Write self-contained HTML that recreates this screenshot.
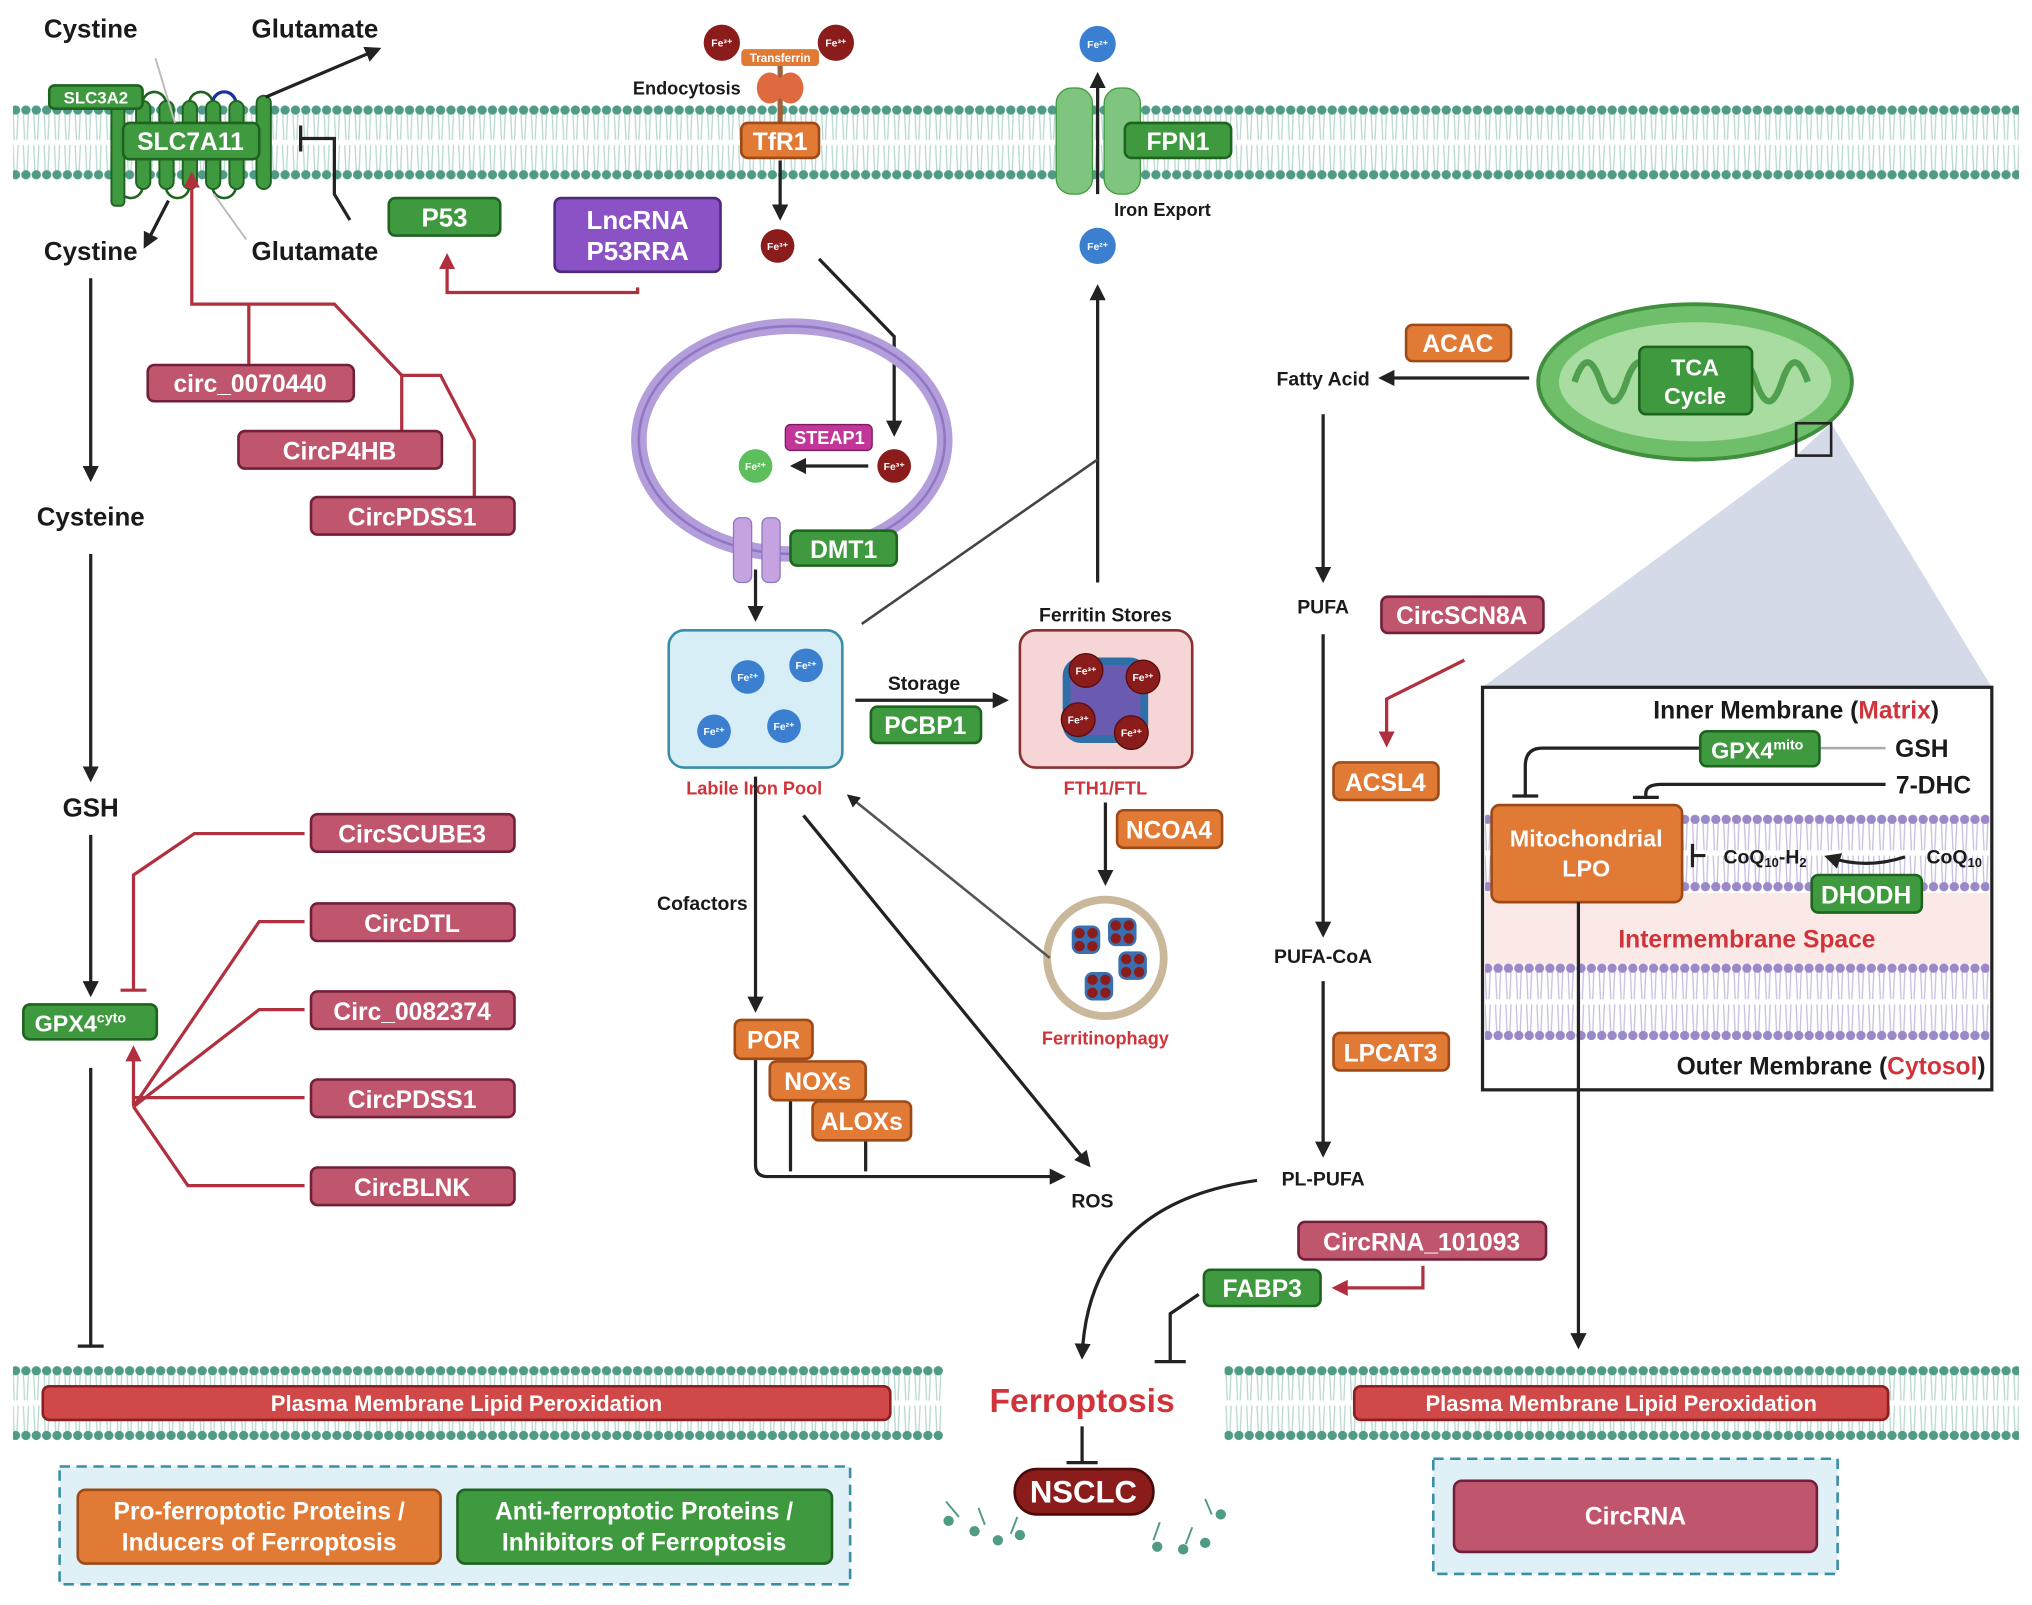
<!DOCTYPE html>
<html><head><meta charset="utf-8"><style>
html,body{margin:0;padding:0;background:#fff}
svg{display:block}
text{font-family:"Liberation Sans",sans-serif;font-weight:bold}
.w{fill:#fff;text-anchor:middle}
.k{fill:#1a1a1a;text-anchor:middle}
.r{fill:#d0343a;text-anchor:middle}
.g{fill:#3f9a3f;stroke:#1e6420;stroke-width:2}
.o{fill:#e07a35;stroke:#9c4a17;stroke-width:2}
.p{fill:#c0566e;stroke:#72203a;stroke-width:2}
.ln{stroke:#222;stroke-width:2.5;fill:none}
.rl{stroke:#b0303f;stroke-width:2.5;fill:none}
.hx{fill:#3f9a3f;stroke:#1e6420;stroke-width:1.5}
</style></head><body>
<svg width="2032" height="1605" viewBox="0 0 1568 1240" preserveAspectRatio="none" xmlns="http://www.w3.org/2000/svg">
<defs>
<pattern id="mem" x="0" y="80" width="8" height="60" patternUnits="userSpaceOnUse">
<line x1="2" y1="6" x2="3" y2="28" stroke="#b7d8cf" stroke-width="1"/><line x1="6" y1="6" x2="5" y2="28" stroke="#b7d8cf" stroke-width="1"/>
<line x1="2" y1="32" x2="3" y2="54" stroke="#b7d8cf" stroke-width="1"/><line x1="6" y1="32" x2="5" y2="54" stroke="#b7d8cf" stroke-width="1"/>
<circle cx="4" cy="5" r="3.6" fill="#4f9b86"/><circle cx="4" cy="55" r="3.6" fill="#4f9b86"/>
</pattern>
<pattern id="memb" x="0" y="1054" width="8" height="60" patternUnits="userSpaceOnUse">
<line x1="2" y1="6" x2="3" y2="28" stroke="#b7d8cf"/><line x1="6" y1="6" x2="5" y2="28" stroke="#b7d8cf"/>
<line x1="2" y1="32" x2="3" y2="54" stroke="#b7d8cf"/><line x1="6" y1="32" x2="5" y2="54" stroke="#b7d8cf"/>
<circle cx="4" cy="5" r="3.6" fill="#4f9b86"/><circle cx="4" cy="55" r="3.6" fill="#4f9b86"/>
</pattern>
<pattern id="pm1" x="0" y="628" width="8" height="62" patternUnits="userSpaceOnUse">
<line x1="2" y1="6" x2="3" y2="29" stroke="#c8bde0"/><line x1="6" y1="6" x2="5" y2="29" stroke="#c8bde0"/>
<line x1="2" y1="33" x2="3" y2="56" stroke="#c8bde0"/><line x1="6" y1="33" x2="5" y2="56" stroke="#c8bde0"/>
<circle cx="4" cy="5" r="3.6" fill="#9a88c8"/><circle cx="4" cy="57" r="3.6" fill="#9a88c8"/>
</pattern>
<pattern id="pm2" x="0" y="743" width="8" height="62" patternUnits="userSpaceOnUse">
<line x1="2" y1="6" x2="3" y2="29" stroke="#c8bde0"/><line x1="6" y1="6" x2="5" y2="29" stroke="#c8bde0"/>
<line x1="2" y1="33" x2="3" y2="56" stroke="#c8bde0"/><line x1="6" y1="33" x2="5" y2="56" stroke="#c8bde0"/>
<circle cx="4" cy="5" r="3.6" fill="#9a88c8"/><circle cx="4" cy="57" r="3.6" fill="#9a88c8"/>
</pattern>
<marker id="a" viewBox="0 0 10 10" refX="8" refY="5" markerWidth="5" markerHeight="5" orient="auto"><path d="M0,0L10,5L0,10z" fill="#222"/></marker>
<marker id="ar" viewBox="0 0 10 10" refX="8" refY="5" markerWidth="5" markerHeight="5" orient="auto"><path d="M0,0L10,5L0,10z" fill="#b0303f"/></marker>
<g id="fc">
<rect x="-11" y="-11" width="22" height="22" rx="6" fill="#3a6fb0"/>
<circle cx="-5" cy="-5" r="4" fill="#8a1c1c"/><circle cx="5" cy="-5" r="4" fill="#8a1c1c"/><circle cx="-5" cy="5" r="4" fill="#8a1c1c"/><circle cx="5" cy="5" r="4" fill="#8a1c1c"/>
</g>
</defs>

<!-- membranes -->
<rect x="10" y="80" width="1548" height="60" fill="url(#mem)"/>
<rect x="10" y="1054" width="718" height="60" fill="url(#memb)"/>
<rect x="945" y="1054" width="613" height="60" fill="url(#memb)"/>

<!-- top left transporter -->
<g stroke="#1e6420" stroke-width="2" fill="none">
<path d="M110,80a9,9 0 0 1 18,0"/><path d="M146,80a9,9 0 0 1 18,0"/>
<path d="M128,144a9,9 0 0 0 18,0"/><path d="M164,144a9,9 0 0 0 18,0"/><path d="M92,144a9,9 0 0 0 18,0"/>
</g>
<path d="M164,80a9,9 0 0 1 18,0" stroke="#1a2fa0" stroke-width="2.5" fill="none"/>
<rect x="86" y="75" width="10" height="84" rx="3" class="hx"/>
<rect x="105" y="78" width="11" height="68" rx="5.5" class="hx"/>
<rect x="123" y="78" width="11" height="68" rx="5.5" class="hx"/>
<rect x="141" y="78" width="11" height="68" rx="5.5" class="hx"/>
<rect x="159" y="78" width="11" height="68" rx="5.5" class="hx"/>
<rect x="177" y="78" width="11" height="68" rx="5.5" class="hx"/>
<rect x="198" y="74" width="11" height="72" rx="5.5" class="hx"/>
<rect x="38" y="66" width="72" height="18" rx="4" class="g"/><text x="74" y="80" class="w" font-size="13">SLC3A2</text>
<rect x="95" y="95" width="105" height="28" rx="5" class="g"/><text x="147" y="116" class="w" font-size="19">SLC7A11</text>
<text x="70" y="29" class="k" font-size="20">Cystine</text><text x="243" y="29" class="k" font-size="20">Glutamate</text>
<text x="70" y="201" class="k" font-size="20">Cystine</text><text x="243" y="201" class="k" font-size="20">Glutamate</text>
<path d="M205,75L292,38" class="ln" marker-end="url(#a)"/>
<path d="M130,155L112,190" class="ln" marker-end="url(#a)"/>
<path d="M120,45L135,95M165,150L190,185" stroke="#bbb" stroke-width="1.5"/>
<path d="M270,170L258,150L258,107H232M232,97V117" class="ln"/>
<rect x="300" y="153" width="86" height="29" rx="5" class="g"/><text x="343" y="175" class="w" font-size="20">P53</text>
<rect x="428" y="153" width="128" height="57" rx="5" fill="#8b52c6" stroke="#4d2a7a" stroke-width="2"/>
<text x="492" y="177" class="w" font-size="20">LncRNA</text><text x="492" y="201" class="w" font-size="20">P53RRA</text>
<path d="M492,222V226H345V198" class="rl" marker-end="url(#ar)"/>

<!-- red connectors to SLC7A11 -->
<path d="M192,282V235H148V135" class="rl" marker-end="url(#ar)"/>
<path d="M192,235H258L310,290V333" class="rl"/>
<path d="M310,290H340L366,340V384" class="rl"/>
<rect x="114" y="282" width="159" height="28" rx="5" class="p"/><text x="193" y="303" class="w" font-size="19">circ_0070440</text>
<rect x="184" y="333" width="157" height="29" rx="5" class="p"/><text x="262" y="355" class="w" font-size="19">CircP4HB</text>
<rect x="240" y="384" width="157" height="29" rx="5" class="p"/><text x="318" y="406" class="w" font-size="19">CircPDSS1</text>

<!-- left pathway -->
<path d="M70,215V370" class="ln" marker-end="url(#a)"/>
<text x="70" y="406" class="k" font-size="20">Cysteine</text>
<path d="M70,428V602" class="ln" marker-end="url(#a)"/>
<text x="70" y="631" class="k" font-size="20">GSH</text>
<path d="M70,645V768" class="ln" marker-end="url(#a)"/>
<rect x="18" y="776" width="103" height="27" rx="5" class="g"/><text x="62" y="797" class="w" font-size="18">GPX4<tspan font-size="11" dy="-7">cyto</tspan></text>
<path d="M70,825V1040M60,1040H80" class="ln"/>
<path d="M235,644H150L103,676V765M93,765H113" class="rl"/>
<g class="rl">
<path d="M235,712H200L103,855"/><path d="M235,780H200L103,855"/><path d="M235,848H103"/><path d="M235,916H145L103,855"/>
</g>
<path d="M103,855V810" class="rl" marker-end="url(#ar)"/>
<rect x="240" y="629" width="157" height="29" rx="5" class="p"/><text x="318" y="651" class="w" font-size="19">CircSCUBE3</text>
<rect x="240" y="698" width="157" height="29" rx="5" class="p"/><text x="318" y="720" class="w" font-size="19">CircDTL</text>
<rect x="240" y="766" width="157" height="29" rx="5" class="p"/><text x="318" y="788" class="w" font-size="19">Circ_0082374</text>
<rect x="240" y="834" width="157" height="29" rx="5" class="p"/><text x="318" y="856" class="w" font-size="19">CircPDSS1</text>
<rect x="240" y="902" width="157" height="29" rx="5" class="p"/><text x="318" y="924" class="w" font-size="19">CircBLNK</text>

<!-- transferrin -->
<circle cx="557" cy="33" r="14" fill="#8a1c1c"/><circle cx="645" cy="33" r="14" fill="#8a1c1c"/>
<text x="557" y="36" class="w" font-size="8">Fe³⁺</text><text x="645" y="36" class="w" font-size="8">Fe³⁺</text>
<rect x="572" y="38" width="60" height="13" rx="3" fill="#e07a35"/><text x="602" y="48" class="w" font-size="9">Transferrin</text>
<path d="M602,51V95" stroke="#a0603a" stroke-width="4"/>
<ellipse cx="594" cy="68" rx="10" ry="12" fill="#e06a40"/><ellipse cx="610" cy="68" rx="10" ry="12" fill="#e06a40"/>
<text x="530" y="73" class="k" font-size="14">Endocytosis</text>
<rect x="572" y="95" width="60" height="27" rx="5" class="o"/><text x="602" y="116" class="w" font-size="19">TfR1</text>
<path d="M602,124V168" class="ln" marker-end="url(#a)"/>
<circle cx="600" cy="190" r="13" fill="#8a1c1c"/><text x="600" y="193" class="w" font-size="8">Fe³⁺</text>
<path d="M632,200L690,260V335" class="ln" marker-end="url(#a)"/>

<!-- FPN1 -->
<rect x="815" y="68" width="28" height="82" rx="12" fill="#7fc57f" stroke="#3f9a3f"/><rect x="852" y="68" width="28" height="82" rx="12" fill="#7fc57f" stroke="#3f9a3f"/>
<path d="M847,150V58" class="ln" marker-end="url(#a)"/>
<rect x="868" y="95" width="82" height="27" rx="5" class="g"/><text x="909" y="116" class="w" font-size="19">FPN1</text>
<circle cx="847" cy="34" r="14" fill="#3a7fd0"/><text x="847" y="37" class="w" font-size="8">Fe²⁺</text>
<circle cx="847" cy="190" r="14" fill="#3a7fd0"/><text x="847" y="193" class="w" font-size="8">Fe²⁺</text>
<text x="897" y="167" class="k" font-size="14">Iron Export</text>
<path d="M847,450V222" class="ln" marker-end="url(#a)"/>
<path d="M665,482L847,355" stroke="#444" stroke-width="2" fill="none"/>

<!-- endosome -->
<ellipse cx="611" cy="340" rx="118" ry="88" fill="none" stroke="#b39ddb" stroke-width="12"/>
<ellipse cx="611" cy="340" rx="118" ry="88" fill="none" stroke="#8e78c4" stroke-width="2"/>
<rect x="606" y="328" width="67" height="20" rx="4" fill="#c2369a" stroke="#7a1a60"/><text x="640" y="343" class="w" font-size="14">STEAP1</text>
<circle cx="583" cy="360" r="13" fill="#5cbf5c"/><text x="583" y="363" class="w" font-size="8">Fe²⁺</text>
<circle cx="690" cy="360" r="13" fill="#8a1c1c"/><text x="690" y="363" class="w" font-size="8">Fe³⁺</text>
<path d="M670,360H612" class="ln" marker-end="url(#a)"/>
<rect x="566" y="400" width="14" height="50" rx="5" fill="#c5a3e0" stroke="#8e78c4"/><rect x="588" y="400" width="14" height="50" rx="5" fill="#c5a3e0" stroke="#8e78c4"/>
<rect x="610" y="410" width="82" height="27" rx="5" class="g"/><text x="651" y="431" class="w" font-size="19">DMT1</text>
<path d="M583,440V478" class="ln" marker-end="url(#a)"/>

<!-- labile iron pool -->
<rect x="516" y="487" width="134" height="106" rx="12" fill="#d8eef6" stroke="#3a8fa8" stroke-width="2"/>
<g fill="#3a7fd0"><circle cx="577" cy="523" r="13"/><circle cx="622" cy="514" r="13"/><circle cx="551" cy="565" r="13"/><circle cx="605" cy="561" r="13"/></g>
<g class="w" font-size="8"><text x="577" y="526">Fe²⁺</text><text x="622" y="517">Fe²⁺</text><text x="551" y="568">Fe²⁺</text><text x="605" y="564">Fe²⁺</text></g>
<text x="582" y="614" class="r" font-size="14">Labile Iron Pool</text>
<text x="713" y="533" class="k" font-size="15">Storage</text>
<path d="M660,541H776" class="ln" marker-end="url(#a)"/>
<rect x="672" y="546" width="85" height="28" rx="5" class="g"/><text x="714" y="567" class="w" font-size="19">PCBP1</text>

<!-- ferritin -->
<text x="853" y="480" class="k" font-size="15">Ferritin Stores</text>
<rect x="787" y="487" width="133" height="106" rx="12" fill="#f5d5d5" stroke="#8a3030" stroke-width="2"/>
<rect x="820" y="508" width="66" height="66" rx="14" fill="#2f6fa8"/>
<rect x="826" y="514" width="54" height="54" rx="10" fill="#6a5ab0"/>
<g fill="#8a1c1c" stroke="#5a0a0a"><circle cx="838" cy="518" r="13"/><circle cx="882" cy="523" r="13"/><circle cx="832" cy="556" r="13"/><circle cx="873" cy="566" r="13"/></g>
<g class="w" font-size="8"><text x="838" y="521">Fe³⁺</text><text x="882" y="526">Fe³⁺</text><text x="832" y="559">Fe³⁺</text><text x="873" y="569">Fe³⁺</text></g>
<text x="853" y="614" class="r" font-size="14">FTH1/FTL</text>
<path d="M853,620V682" class="ln" marker-end="url(#a)"/>
<rect x="862" y="626" width="81" height="29" rx="5" class="o"/><text x="902" y="648" class="w" font-size="19">NCOA4</text>
<circle cx="853" cy="740" r="45" fill="#fff" stroke="#c9b89a" stroke-width="6"/>
<use href="#fc" x="838" y="726"/><use href="#fc" x="866" y="720"/><use href="#fc" x="874" y="746"/><use href="#fc" x="848" y="762"/>
<text x="853" y="807" class="r" font-size="14">Ferritinophagy</text>
<path d="M810,740L655,615" stroke="#555" stroke-width="2" fill="none" marker-end="url(#a)"/>
<path d="M620,630L840,900" class="ln" marker-end="url(#a)"/>

<!-- cofactors -->
<path d="M583,600V780" class="ln" marker-end="url(#a)"/>
<text x="542" y="703" class="k" font-size="15">Cofactors</text>
<path d="M583,818V900Q583,909 592,909H820" class="ln" marker-end="url(#a)"/>
<path d="M610,850V905M668,881V905" class="ln"/>
<rect x="567" y="788" width="60" height="30" rx="5" class="o"/><text x="597" y="810" class="w" font-size="19">POR</text>
<rect x="594" y="820" width="74" height="30" rx="5" class="o"/><text x="631" y="842" class="w" font-size="19">NOXs</text>
<rect x="627" y="851" width="76" height="30" rx="5" class="o"/><text x="665" y="873" class="w" font-size="19">ALOXs</text>
<text x="843" y="933" class="k" font-size="15">ROS</text>

<!-- lipid pathway -->
<rect x="1085" y="251" width="81" height="28" rx="5" class="o"/><text x="1125" y="272" class="w" font-size="19">ACAC</text>
<path d="M1180,292H1066" class="ln" marker-end="url(#a)"/>
<text x="1021" y="298" class="k" font-size="15">Fatty Acid</text>
<path d="M1021,320V448" class="ln" marker-end="url(#a)"/>
<text x="1021" y="474" class="k" font-size="15">PUFA</text>
<path d="M1021,490V722" class="ln" marker-end="url(#a)"/>
<rect x="1066" y="461" width="125" height="28" rx="5" class="p"/><text x="1128" y="482" class="w" font-size="19">CircSCN8A</text>
<path d="M1130,510L1070,540V575" class="rl" marker-end="url(#ar)"/>
<rect x="1029" y="589" width="81" height="29" rx="5" class="o"/><text x="1069" y="611" class="w" font-size="19">ACSL4</text>
<text x="1021" y="744" class="k" font-size="15">PUFA-CoA</text>
<path d="M1021,758V892" class="ln" marker-end="url(#a)"/>
<rect x="1029" y="798" width="89" height="29" rx="5" class="o"/><text x="1073" y="820" class="w" font-size="19">LPCAT3</text>
<text x="1021" y="916" class="k" font-size="15">PL-PUFA</text>
<path d="M970,912Q840,930 835,1048" class="ln" marker-end="url(#a)"/>
<rect x="1002" y="944" width="191" height="29" rx="5" class="p"/><text x="1097" y="966" class="w" font-size="19">CircRNA_101093</text>
<path d="M1098,978V995H1030" class="rl" marker-end="url(#ar)"/>
<rect x="929" y="981" width="90" height="28" rx="5" class="g"/><text x="974" y="1002" class="w" font-size="19">FABP3</text>
<path d="M925,1000L903,1015V1052M891,1052H915" class="ln"/>

<!-- mitochondrion -->
<polygon points="1386,352 1413,327 1537,531 1144,531" fill="#d5dae8"/>
<ellipse cx="1308" cy="295" rx="121" ry="60" fill="#6fbf6a" stroke="#3f8f3f" stroke-width="3"/>
<ellipse cx="1308" cy="295" rx="105" ry="46" fill="#a8dca0"/>
<path d="M1215,295q10,-30 20,0t20,0t20,0t20,0t20,0t20,0t20,0t20,0t20,0" stroke="#4f9f4f" stroke-width="5" fill="none"/>
<rect x="1265" y="268" width="87" height="52" rx="5" class="g"/><text x="1308" y="290" class="w" font-size="18">TCA</text><text x="1308" y="312" class="w" font-size="18">Cycle</text>
<rect x="1386" y="327" width="27" height="25" fill="none" stroke="#222" stroke-width="2"/>

<rect x="1144" y="531" width="393" height="311" fill="#fff" stroke="#222" stroke-width="2.5"/>
<rect x="1146" y="690" width="389" height="55" fill="#fbe9e7"/>
<rect x="1146" y="628" width="389" height="62" fill="url(#pm1)"/>
<rect x="1146" y="743" width="389" height="62" fill="url(#pm2)"/>
<text x="1386" y="555" class="k" font-size="19">Inner Membrane (<tspan fill="#d0343a">Matrix</tspan>)</text>
<path d="M1312,578H1190Q1177,578 1177,592V615M1167,615H1187" class="ln"/>
<path d="M1400,578H1455" stroke="#aaa" stroke-width="2"/>
<path d="M1455,606H1282Q1270,606 1270,613V616M1260,616H1280" class="ln"/>
<rect x="1312" y="565" width="92" height="27" rx="5" class="g"/><text x="1356" y="586" class="w" font-size="18">GPX4<tspan font-size="11" dy="-7">mito</tspan></text>
<text x="1483" y="585" class="k" font-size="19">GSH</text>
<text x="1492" y="613" class="k" font-size="19">7-DHC</text>
<rect x="1151" y="622" width="147" height="75" rx="6" class="o"/>
<text x="1224" y="654" class="w" font-size="18">Mitochondrial</text><text x="1224" y="677" class="w" font-size="18">LPO</text>
<path d="M1306,652V670M1306,661H1316" class="ln"/>
<text x="1362" y="667" class="k" font-size="15">CoQ<tspan font-size="10" dy="3">10</tspan><tspan dy="-3">-H</tspan><tspan font-size="10" dy="3">2</tspan></text>
<path d="M1470,662Q1440,672 1410,662" class="ln" marker-end="url(#a)"/>
<text x="1508" y="667" class="k" font-size="15">CoQ<tspan font-size="10" dy="3">10</tspan></text>
<rect x="1398" y="676" width="85" height="29" rx="5" class="g"/><text x="1440" y="698" class="w" font-size="19">DHODH</text>
<text x="1348" y="732" class="r" font-size="19">Intermembrane Space</text>
<text x="1413" y="830" class="k" font-size="19">Outer Membrane (<tspan fill="#d0343a">Cytosol</tspan>)</text>
<path d="M1218,697V1040" class="ln" marker-end="url(#a)"/>

<!-- bottom -->
<rect x="33" y="1071" width="654" height="26" rx="5" fill="#d04848" stroke="#8a2020" stroke-width="2"/>
<text x="360" y="1090" class="w" font-size="17">Plasma Membrane Lipid Peroxidation</text>
<rect x="1045" y="1071" width="412" height="26" rx="5" fill="#d04848" stroke="#8a2020" stroke-width="2"/>
<text x="1251" y="1090" class="w" font-size="17">Plasma Membrane Lipid Peroxidation</text>
<text x="835" y="1091" class="r" font-size="26">Ferroptosis</text>
<path d="M835,1102V1130M823,1130H847" class="ln" stroke-width="3"/>
<g stroke="#4f9b86" stroke-width="1.5">
<path d="M740,1172L730,1160M760,1178L755,1165M780,1185L785,1172M890,1190L895,1176M915,1193L920,1180M935,1170L930,1158"/>
</g>
<g fill="#4f9b86"><circle cx="732" cy="1175" r="4"/><circle cx="752" cy="1183" r="4"/><circle cx="770" cy="1190" r="4"/><circle cx="787" cy="1186" r="4"/><circle cx="893" cy="1195" r="4"/><circle cx="913" cy="1197" r="4"/><circle cx="930" cy="1192" r="4"/><circle cx="942" cy="1170" r="4"/></g>
<rect x="783" y="1135" width="107" height="35" rx="17" fill="#8a1c1c" stroke="#4a0a0a" stroke-width="2"/>
<text x="836" y="1161" class="w" font-size="24">NSCLC</text>

<rect x="46" y="1133" width="610" height="91" fill="#dff0f6" stroke="#3a8fa8" stroke-width="2" stroke-dasharray="8,5"/>
<rect x="60" y="1151" width="280" height="57" rx="6" class="o"/>
<text x="200" y="1174" class="w" font-size="19">Pro-ferroptotic Proteins /</text><text x="200" y="1198" class="w" font-size="19">Inducers of Ferroptosis</text>
<rect x="353" y="1151" width="289" height="57" rx="6" class="g"/>
<text x="497" y="1174" class="w" font-size="19">Anti-ferroptotic Proteins /</text><text x="497" y="1198" class="w" font-size="19">Inhibitors of Ferroptosis</text>
<rect x="1106" y="1127" width="312" height="89" fill="#dff0f6" stroke="#3a8fa8" stroke-width="2" stroke-dasharray="8,5"/>
<rect x="1122" y="1144" width="280" height="55" rx="6" class="p"/>
<text x="1262" y="1178" class="w" font-size="19">CircRNA</text>
</svg>
</body></html>
